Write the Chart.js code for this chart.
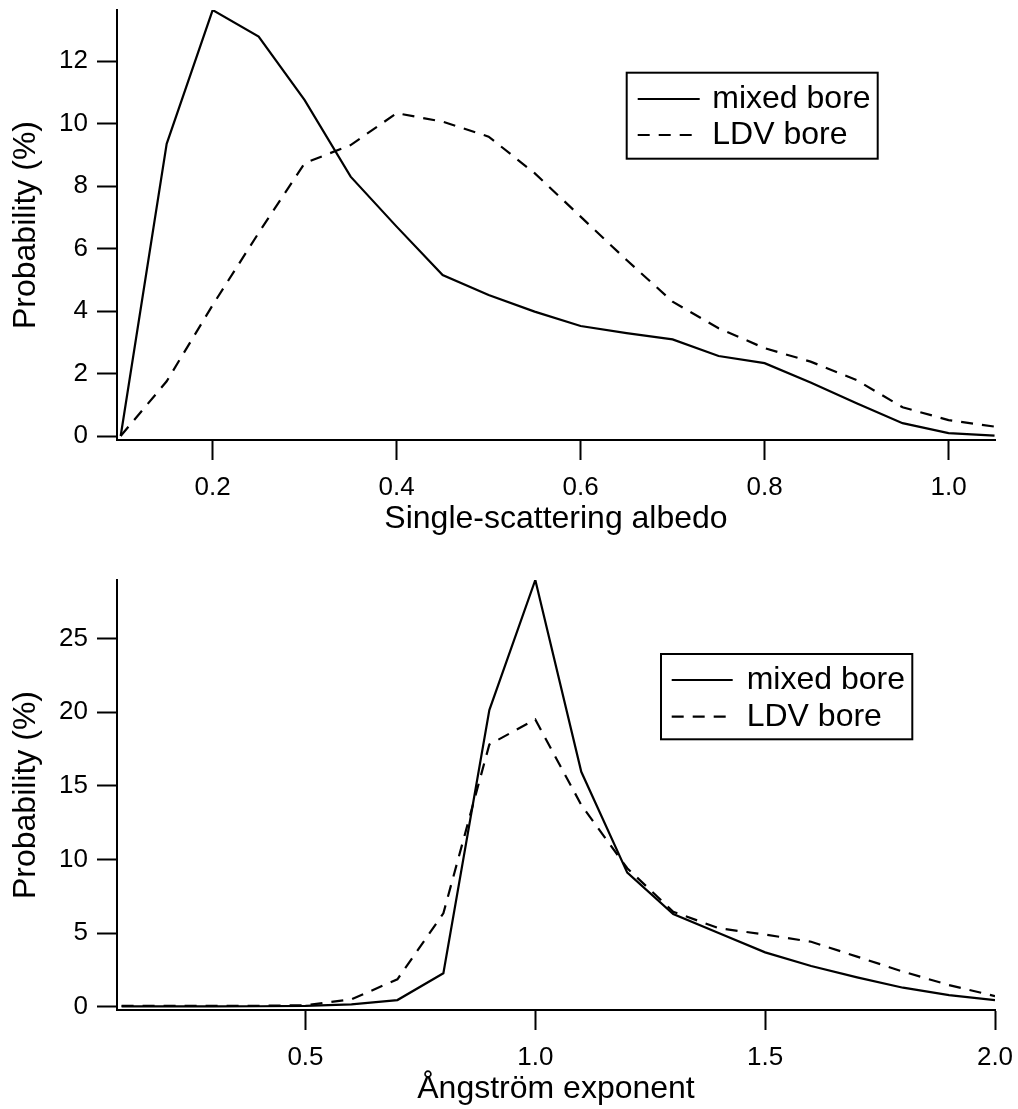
<!DOCTYPE html>
<html>
<head>
<meta charset="utf-8">
<script src="https://cdn.jsdelivr.net/npm/chart.js@4/dist/chart.umd.min.js"></script>
<style>
  html, body { margin: 0; padding: 0; background: #fff; overflow: hidden; }
  canvas { position: absolute; left: 0; }
  #albedoChart { top: 0; }
  #angstromChart { top: 570px; }
</style>
</head>
<body>
<canvas id="albedoChart" width="1018" height="560"></canvas>
<canvas id="angstromChart" width="1018" height="539"></canvas>
<script>
// Single-scattering albedo distribution (bin centres and probabilities, %)
const albedoBins  = [0.10, 0.15, 0.20, 0.25, 0.30, 0.35, 0.40, 0.45, 0.50, 0.55,
                     0.60, 0.65, 0.70, 0.75, 0.80, 0.85, 0.90, 0.95, 1.00, 1.05];
const albedoMixed = [0.00, 9.35, 13.63, 12.78, 10.75, 8.30, 6.70, 5.15, 4.51, 3.98,
                     3.52, 3.29, 3.09, 2.56, 2.33, 1.71, 1.05, 0.41, 0.09, 0.01];
const albedoLDV   = [0.00, 1.75, 4.19, 6.50, 8.73, 9.31, 10.33, 10.06, 9.58, 8.41,
                     7.02, 5.63, 4.30, 3.45, 2.81, 2.38, 1.79, 0.92, 0.51, 0.30];

// Ångström exponent distribution (bin centres and probabilities, %)
const angstromBins  = [0.1, 0.2, 0.3, 0.4, 0.5, 0.6, 0.7, 0.8, 0.9, 1.0,
                       1.1, 1.2, 1.3, 1.4, 1.5, 1.6, 1.7, 1.8, 1.9, 2.0];
const angstromMixed = [0.02, 0.02, 0.02, 0.03, 0.05, 0.16, 0.45, 2.27, 20.14, 28.97,
                       15.95, 9.10, 6.29, 4.98, 3.69, 2.76, 1.99, 1.29, 0.79, 0.45];
const angstromLDV   = [0.05, 0.05, 0.05, 0.06, 0.10, 0.50, 1.86, 6.34, 17.80, 19.50,
                       13.70, 9.40, 6.45, 5.32, 4.90, 4.41, 3.40, 2.38, 1.47, 0.72];

// Tick values
const albedoXTicks   = [0.2, 0.4, 0.6, 0.8, 1.0];
const albedoYTicks   = [0, 2, 4, 6, 8, 10, 12];
const angstromXTicks = [0.5, 1.0, 1.5, 2.0];
const angstromYTicks = [0, 5, 10, 15, 20, 25];

// Series names
const seriesNames = ['mixed bore', 'LDV bore'];
</script>
<script>
const FONT = '"Liberation Sans", Arial, Helvetica, sans-serif';
const DASH = [12, 9];
const LINE_W = 2.2;

// Framed legend drawn inside the plot area
const boxLegend = {
  id: 'boxLegend',
  afterDatasetsDraw(chart, args, o) {
    const ctx = chart.ctx;
    ctx.save();
    ctx.fillStyle = '#fff';
    ctx.fillRect(o.left, o.top, o.width, o.height);
    ctx.lineWidth = 2;
    ctx.strokeStyle = '#000';
    ctx.setLineDash([]);
    ctx.strokeRect(o.left, o.top, o.width, o.height);
    chart.data.datasets.forEach((ds, i) => {
      const y = o.top + o.firstRow + i * o.rowGap;
      const dashed = ds.borderDash && ds.borderDash.length;
      ctx.beginPath();
      ctx.setLineDash(dashed ? ds.borderDash : []);
      ctx.lineWidth = ds.borderWidth;
      ctx.moveTo(o.left + o.sampleStart, y);
      ctx.lineTo(o.left + o.sampleStart + (dashed ? o.dashLen : o.sampleLen), y);
      ctx.stroke();
      ctx.setLineDash([]);
      ctx.fillStyle = '#000';
      ctx.font = '32px ' + FONT;
      ctx.textBaseline = 'middle';
      ctx.textAlign = 'left';
      ctx.fillText(ds.label, o.left + o.textStart, y);
    });
    ctx.restore();
  }
};

function toPoints(xs, ys) {
  return xs.map((x, i) => ({ x: x, y: ys[i] }));
}

function makeChart(id, cfg) {
  return new Chart(document.getElementById(id), {
    type: 'line',
    data: {
      datasets: [
        { label: seriesNames[0], data: toPoints(cfg.bins, cfg.mixed),
          borderColor: '#000', borderWidth: LINE_W, pointRadius: 0, tension: 0, fill: false },
        { label: seriesNames[1], data: toPoints(cfg.bins, cfg.ldv),
          borderColor: '#000', borderWidth: LINE_W, borderDash: DASH, pointRadius: 0, tension: 0, fill: false }
      ]
    },
    options: {
      responsive: false,
      animation: false,
      devicePixelRatio: 1,
      layout: { padding: { left: 0, right: 23, top: 10, bottom: 0 } },
      plugins: {
        legend: { display: false },
        tooltip: { enabled: false },
        boxLegend: cfg.legend
      },
      scales: {
        x: {
          type: 'linear',
          min: cfg.xMin, max: cfg.xMax,
          afterFit: s => { s.height = cfg.xAxisHeight; s.paddingLeft = 0; s.paddingRight = 0; },
          afterBuildTicks: s => { s.ticks = cfg.xTicks.map(v => ({ value: v })); },
          grid: { drawOnChartArea: false, drawTicks: true, tickLength: 20, tickWidth: 2, tickColor: '#000' },
          border: { display: true, color: '#000', width: 2 },
          ticks: {
            color: '#000', padding: 12, maxRotation: 0, autoSkip: false,
            font: { family: FONT, size: 26 },
            callback: v => Number(v).toFixed(1)
          },
          title: {
            display: true, text: cfg.xTitle, color: '#000',
            font: { family: FONT, size: 32 },
            padding: { top: 0, bottom: cfg.xTitlePad }
          }
        },
        y: {
          type: 'linear',
          min: cfg.yMin, max: cfg.yMax,
          afterFit: s => { s.width = 117; s.paddingTop = 0; s.paddingBottom = 0; },
          afterBuildTicks: s => { s.ticks = cfg.yTicks.map(v => ({ value: v })); },
          grid: { drawOnChartArea: false, drawTicks: true, tickLength: 20, tickWidth: 2, tickColor: '#000' },
          border: { display: true, color: '#000', width: 2 },
          ticks: {
            color: '#000', padding: 9, autoSkip: false,
            font: { family: FONT, size: 26 },
            callback: v => String(v)
          },
          title: {
            display: true, text: 'Probability (%)', color: '#000',
            font: { family: FONT, size: 32 },
            padding: { top: 7, bottom: 0 }
          }
        }
      }
    },
    plugins: [boxLegend]
  });
}

makeChart('albedoChart', {
  bins: albedoBins, mixed: albedoMixed, ldv: albedoLDV,
  xMin: 0.096, xMax: 1.0505, yMin: -0.128, yMax: 13.632,
  xTicks: albedoXTicks, yTicks: albedoYTicks,
  xTitle: 'Single-scattering albedo', xAxisHeight: 120, xTitlePad: 22,
  legend: { left: 626.7, top: 72.7, width: 251, height: 86, firstRow: 26.3, rowGap: 36,
            sampleStart: 11, sampleLen: 62, dashLen: 54, textStart: 85.6 }
});

makeChart('angstromChart', {
  bins: angstromBins, mixed: angstromMixed, ldv: angstromLDV,
  xMin: 0.09, xMax: 2.0, yMin: -0.224, yMax: 28.97,
  xTicks: angstromXTicks, yTicks: angstromYTicks,
  xTitle: 'Ångström exponent', xAxisHeight: 99, xTitlePad: 1,
  legend: { left: 661, top: 84, width: 251.3, height: 85.3, firstRow: 26, rowGap: 36.7,
            sampleStart: 10.7, sampleLen: 61, dashLen: 54, textStart: 85.7 }
});
</script>
</body>
</html>
